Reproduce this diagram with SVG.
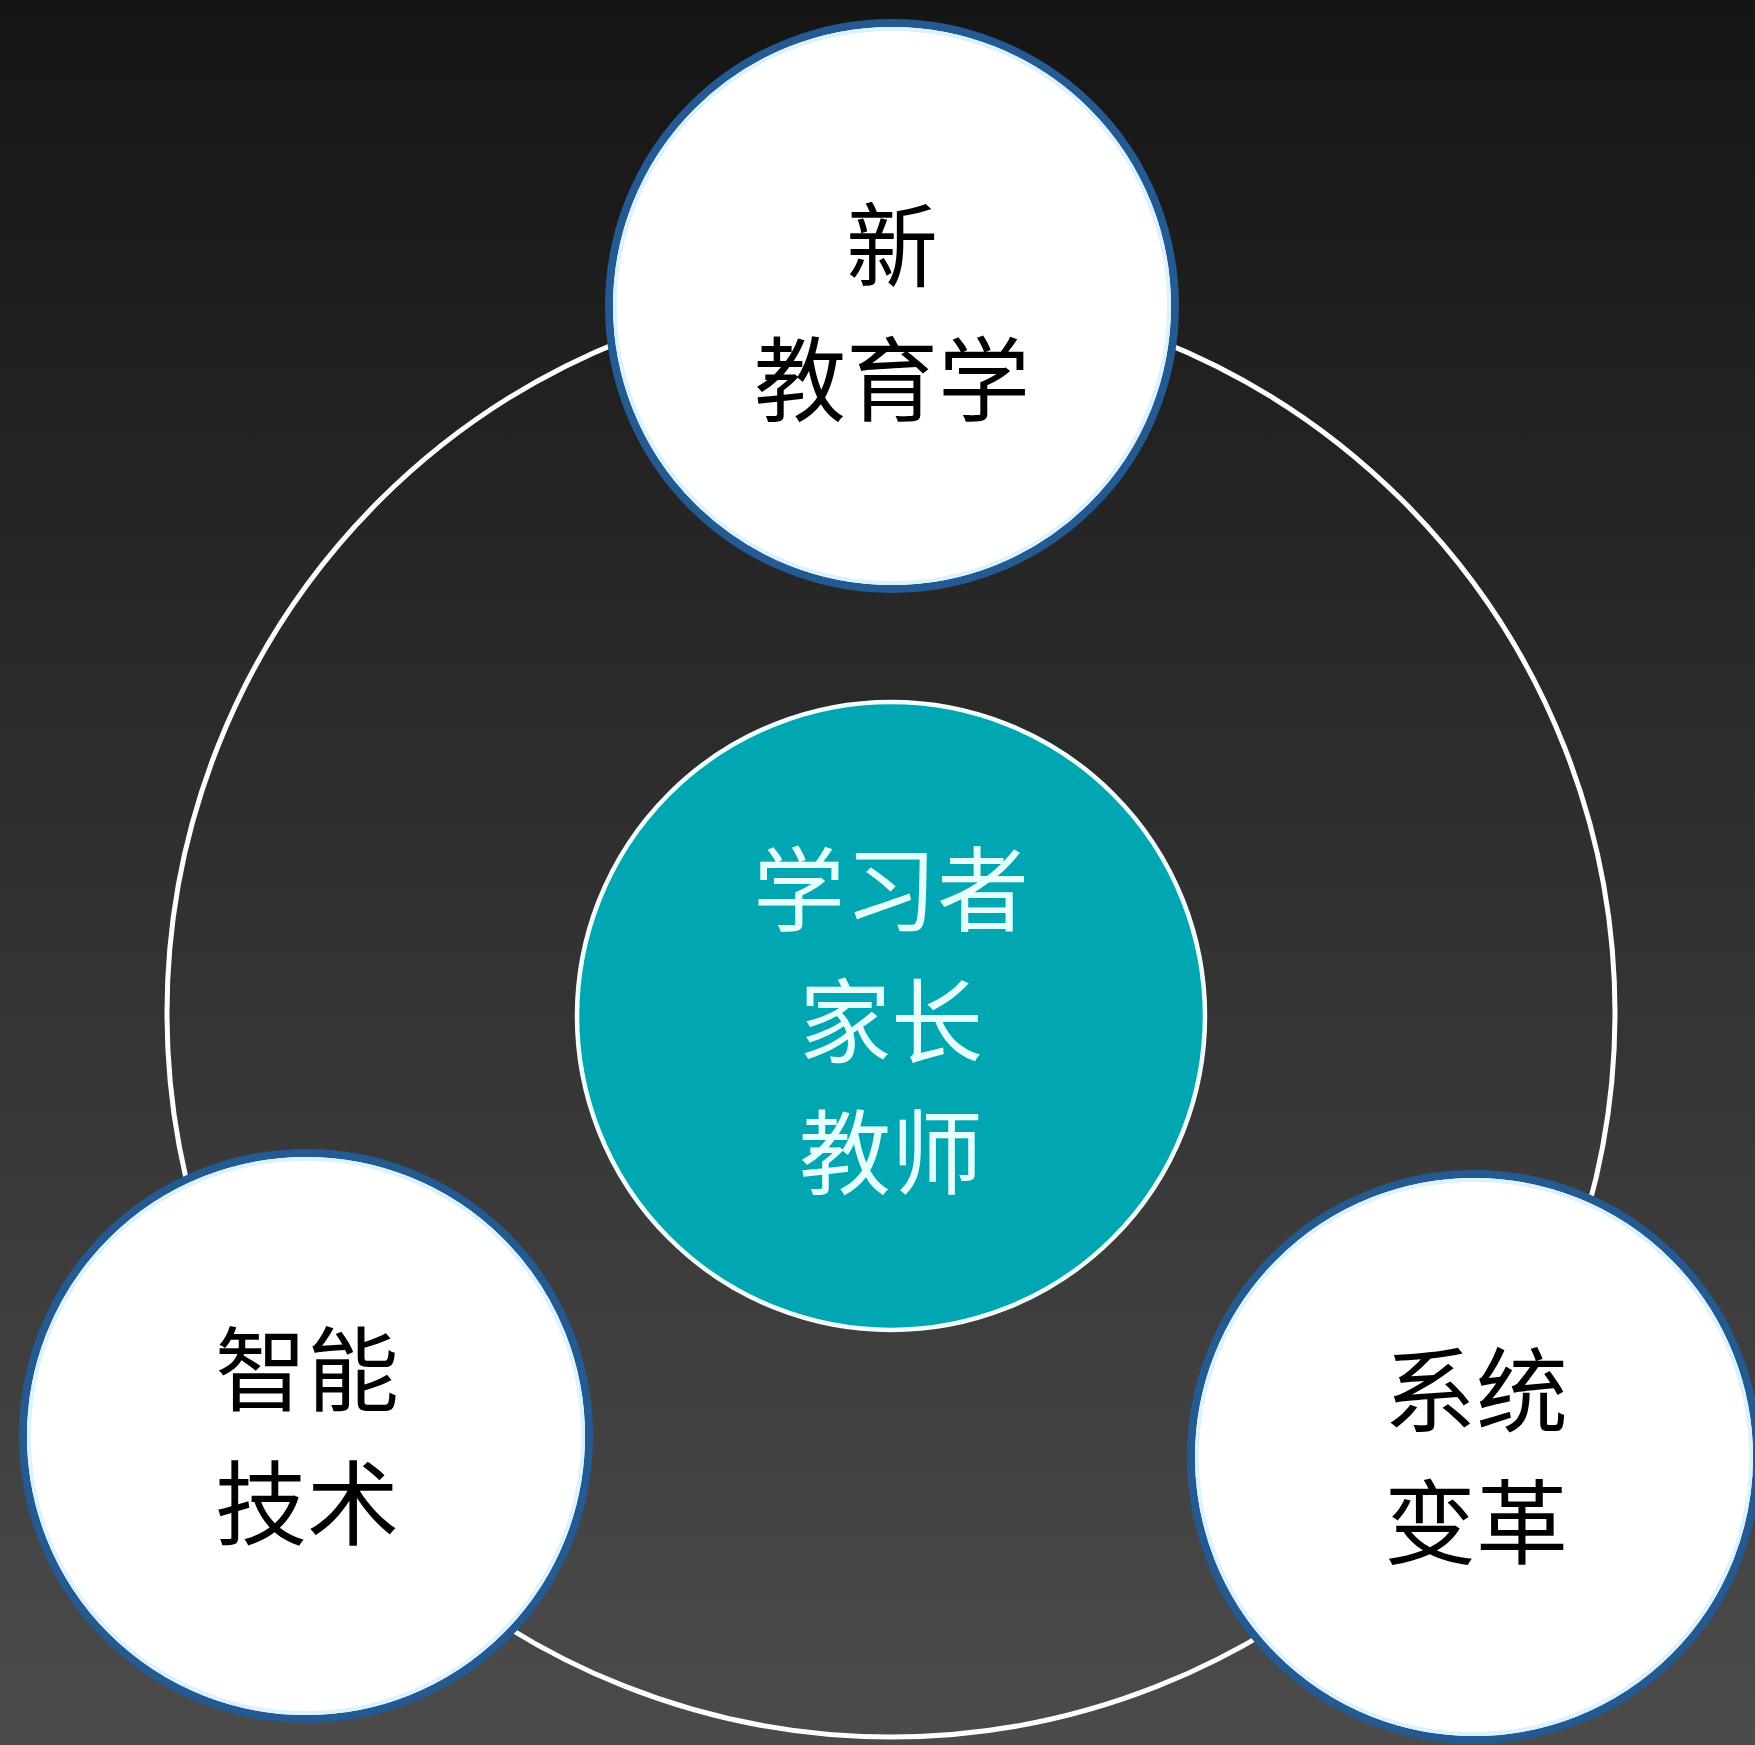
<svg xmlns="http://www.w3.org/2000/svg" width="1755" height="1745" viewBox="0 0 1755 1745">
  <defs>
    <linearGradient id="bg" x1="0" y1="0" x2="0" y2="1">
      <stop offset="0" stop-color="#151515"/>
      <stop offset="1" stop-color="#4b4b4b"/>
    </linearGradient>
  </defs>
  <style>
    .node { fill: #ffffff; stroke: #245a92; stroke-width: 8; }
    .glow { fill: none; stroke: #dcf2ff; stroke-width: 4; }
    .hub { fill: #00a6b1; stroke: #f2ffff; stroke-width: 4.5; }
    .ring { fill: none; stroke: #ffffff; stroke-width: 5; }
    .lbl { font-family: "Liberation Serif", "Noto Sans CJK SC", serif; font-size: 92px; text-anchor: middle; dominant-baseline: central; fill: #000000; }
    .hubl { fill: #e6ffff; }
  </style>
  <rect x="0" y="0" width="1755" height="1745" fill="url(#bg)"/>

  <g id="connectors">
    <circle class="ring" cx="891" cy="1013" r="724"/>
  </g>

  <g id="node-center">
    <circle class="hub" cx="891" cy="1016" r="314"/>
    <text class="lbl hubl" x="891" y="893">学习者</text>
    <text class="lbl hubl" x="891" y="1025">家长</text>
    <text class="lbl hubl" x="891" y="1156">教师</text>
  </g>

  <g id="node-top">
    <circle class="node" cx="892" cy="306" r="283"/>
    <circle class="glow" cx="892" cy="306" r="277"/>
    <text class="lbl" x="892" y="249">新</text>
    <text class="lbl" x="892" y="383">教育学</text>
  </g>

  <g id="node-left">
    <circle class="node" cx="306" cy="1436" r="283"/>
    <circle class="glow" cx="306" cy="1436" r="277"/>
    <text class="lbl" x="307" y="1373">智能</text>
    <text class="lbl" x="307" y="1507">技术</text>
  </g>

  <g id="node-right">
    <circle class="node" cx="1474" cy="1457" r="283"/>
    <circle class="glow" cx="1474" cy="1457" r="277"/>
    <text class="lbl" x="1476" y="1394">系统</text>
    <text class="lbl" x="1476" y="1526">变革</text>
  </g>
</svg>
